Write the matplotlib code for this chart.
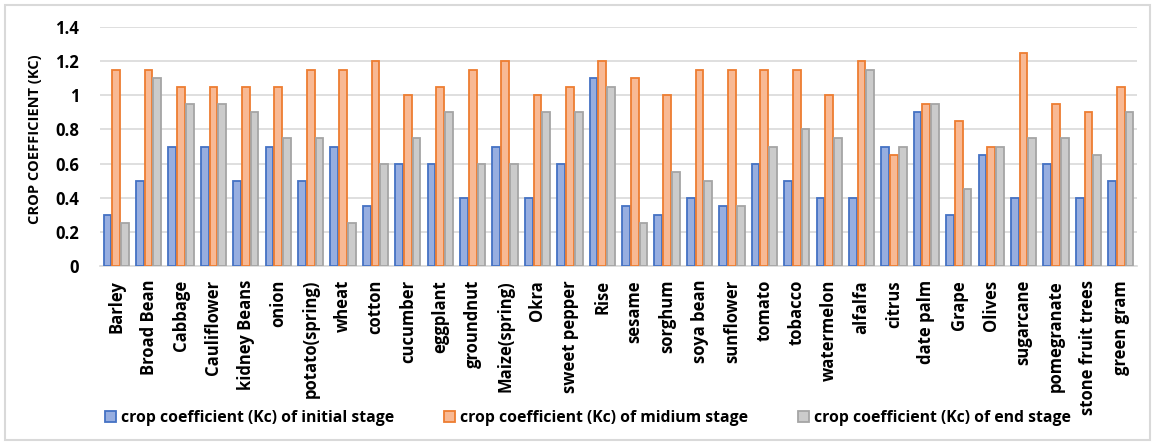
import matplotlib.pyplot as plt
import numpy as np
from matplotlib.patches import Rectangle

plt.rcParams["font.family"] = ["Open Sans", "DejaVu Sans"]

crops = [
    "Barley", "Broad Bean", "Cabbage", "Cauliflower", "kidney Beans", "onion",
    "potato(spring)", "wheat", "cotton", "cucumber", "eggplant", "groundnut",
    "Maize(spring)", "Okra", "sweet pepper", "Rise", "sesame", "sorghum",
    "soya bean", "sunflower", "tomato", "tobacco", "watermelon", "alfalfa",
    "citrus", "date palm", "Grape", "Olives", "sugarcane", "pomegranate",
    "stone fruit trees", "green gram",
]
kc_initial = [0.3, 0.5, 0.7, 0.7, 0.5, 0.7, 0.5, 0.7, 0.35, 0.6, 0.6, 0.4,
              0.7, 0.4, 0.6, 1.1, 0.35, 0.3, 0.4, 0.35, 0.6, 0.5, 0.4, 0.4,
              0.7, 0.9, 0.3, 0.65, 0.4, 0.6, 0.4, 0.5]
kc_mid = [1.15, 1.15, 1.05, 1.05, 1.05, 1.05, 1.15, 1.15, 1.2, 1.0, 1.05, 1.15,
          1.2, 1.0, 1.05, 1.2, 1.1, 1.0, 1.15, 1.15, 1.15, 1.15, 1.0, 1.2,
          0.65, 0.95, 0.85, 0.7, 1.25, 0.95, 0.9, 1.05]
kc_end = [0.25, 1.1, 0.95, 0.95, 0.9, 0.75, 0.75, 0.25, 0.6, 0.75, 0.9, 0.6,
          0.6, 0.9, 0.9, 1.05, 0.25, 0.55, 0.5, 0.35, 0.7, 0.8, 0.75, 1.15,
          0.7, 0.95, 0.45, 0.7, 0.75, 0.75, 0.65, 0.9]
series_labels = [
    "crop coefficient (Kc) of initial stage",
    "crop coefficient (Kc) of midium stage",
    "crop coefficient (Kc) of end stage",
]
yticks = [0, 0.2, 0.4, 0.6, 0.8, 1, 1.2, 1.4]

fills = ["#97AEE0", "#F8B994", "#CBCBCB"]
edges = ["#4472C4", "#ED7D31", "#A5A5A5"]

fig = plt.figure(figsize=(11.55, 4.45), dpi=100)
ax = fig.add_axes([100 / 1155, 1 - 266 / 445, 1037 / 1155, 239 / 445])

x = np.arange(len(crops))
bar_w = 0.24
step = 0.27
for i, vals in enumerate([kc_initial, kc_mid, kc_end]):
    ax.bar(x + (i - 1) * step, vals, width=bar_w, color=fills[i],
           edgecolor=edges[i], linewidth=1.3, label=series_labels[i], zorder=3)

ax.set_xlim(-0.5, len(crops) - 0.5)
ax.set_ylim(0, 1.4)
ax.set_yticks(yticks)
ax.set_yticklabels([f"{t:g}" for t in yticks], fontsize=12, fontweight="bold")
ax.set_xticks(x)
ax.set_xticklabels(crops, rotation=90, fontsize=12, fontweight="bold")
ax.tick_params(axis="both", length=0)
ax.tick_params(axis="y", pad=15)
ax.tick_params(axis="x", pad=10)
ax.grid(axis="y", color="#D9D9D9", linewidth=1.2, zorder=0)
for side in ["top", "right", "left"]:
    ax.spines[side].set_visible(False)
ax.spines["bottom"].set_color("#D9D9D9")
ax.spines["bottom"].set_linewidth(1.2)
ax.set_ylabel("CROP COEFFICIENT (KC)", fontsize=10.5, fontweight="bold")
ax.yaxis.set_label_coords(-0.056, 0.53)

fig.legend(loc="center", bbox_to_anchor=(588 / 1155, 1 - 418 / 445), ncol=3,
           frameon=False, prop={"size": 11.3, "weight": "bold"},
           handlelength=0.7, handleheight=0.7, handletextpad=0.3,
           columnspacing=3.2)

# outer chart border
fig.patches.append(Rectangle((5 / 1155, 5 / 445), 1145 / 1155, 435 / 445,
                             transform=fig.transFigure, fill=False,
                             edgecolor="#D9D9D9", linewidth=1.5))

fig.savefig("out.png", dpi=100)
